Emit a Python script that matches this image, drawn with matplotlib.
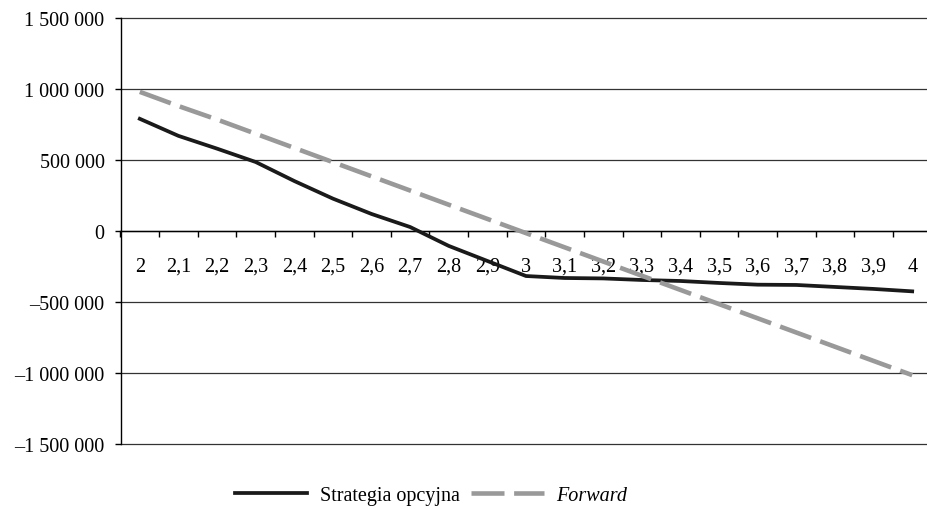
import matplotlib.pyplot as plt
from matplotlib.ticker import FuncFormatter, FixedLocator

plt.rcParams['font.family'] = ['Liberation Serif', 'DejaVu Serif']

kursy = ["2", "2,1", "2,2", "2,3", "2,4", "2,5", "2,6", "2,7", "2,8", "2,9", "3",
         "3,1", "3,2", "3,3", "3,4", "3,5", "3,6", "3,7", "3,8", "3,9", "4"]
strategia = [790000, 670000, 580000, 486000, 352000, 228000, 120000, 28000, -105000, -211000, -317000,
             -331000, -334000, -345000, -352000, -366000, -378000, -380000, -394000, -408000, -425000]
forward = [980000, 880000, 785000, 685000, 585000, 485000, 385000, 285000, 185000, 85000, -15000,
           -115000, -215000, -315000, -415000, -515000, -615000, -715000, -815000, -915000, -1015000]


def fmt(v, pos):
    s = "{:,.0f}".format(abs(v)).replace(",", " ")
    return ("\u2013" + s) if v < 0 else s


fig = plt.figure(figsize=(9.27, 5.10), dpi=100)
ax = fig.add_axes([120.5 / 927, 65 / 510, 811 / 927, 426 / 510])

x = list(range(len(kursy)))
ax.plot(x, strategia, color='#1a1a1a', lw=2.7, label='Strategia opcyjna', zorder=3)
ax.plot(x, forward, color='#999999', lw=3.3, dashes=(7.2, 2.1), label='Forward', zorder=3)

ax.set_xlim(-0.5, len(kursy) - 0.5)
ax.set_ylim(-1500000, 1500000)
ax.set_yticks([-1500000, -1000000, -500000, 0, 500000, 1000000, 1500000])
ax.yaxis.set_major_formatter(FuncFormatter(fmt))
ax.grid(axis='y', color='#333333', lw=0.9)
for gl in ax.get_ygridlines():
    gl.set_clip_on(False)
ax.set_axisbelow(True)

for s in ['top', 'right']:
    ax.spines[s].set_visible(False)
ax.spines['bottom'].set_position(('data', 0))
ax.spines['bottom'].set_linewidth(1.0)
ax.spines['left'].set_linewidth(1.0)

ax.set_xticks(x)
ax.set_xticklabels(kursy)
ax.xaxis.set_minor_locator(FixedLocator([i - 0.5 for i in range(len(kursy) + 1)]))
ax.tick_params(axis='x', which='major', length=0, pad=18.5, labelsize=14.5)
ax.tick_params(axis='x', which='minor', length=4.5, direction='out', width=1.0)
ax.tick_params(axis='y', length=4.5, width=1.0, labelsize=14.5, pad=7)

leg = ax.legend(loc='center', bbox_to_anchor=(431 / 927, 14 / 510), bbox_transform=fig.transFigure,
                ncol=2, frameon=False, fontsize=14.5, handlelength=3.6, columnspacing=0.6,
                handletextpad=0.6)
leg.get_texts()[1].set_fontstyle('italic')

fig.savefig('out.png', dpi=100)
